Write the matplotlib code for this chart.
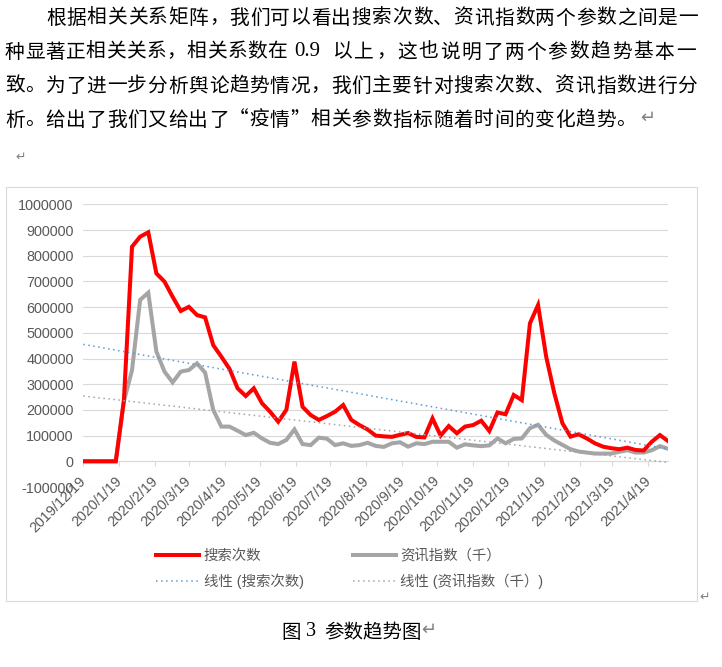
import numpy as np
import pandas as pd
import matplotlib
matplotlib.use('Agg')
import matplotlib.pyplot as plt
import matplotlib.dates as mdates
from matplotlib.patches import Rectangle

# weekly data
dates = pd.date_range('2019-12-19', periods=73, freq='7D')
search = [0, 0, 0, 0, 0, 238000, 835000, 874000, 891000, 731000, 699000, 640000,
          585000, 601000, 569000, 560000, 452000, 407000, 360000, 284000, 254000,
          284000, 226000, 193000, 154000, 200000, 388000, 212000, 180000, 161000,
          176000, 193000, 219000, 161000, 141000, 124000, 100000, 97000, 95000,
          103000, 110000, 95000, 93000, 167000, 100000, 137000, 109000, 135000,
          141000, 158000, 118000, 190000, 183000, 258000, 238000, 537000, 608000,
          407000, 265000, 148000, 96000, 105000, 89000, 70000, 57000, 51000, 47000,
          53000, 44000, 42000, 76000, 102000, 79000]
news = [0, 0, 0, 0, 0, 233000, 355000, 628000, 656000, 427000, 349000, 307000,
        349000, 355000, 381000, 345000, 200000, 135000, 135000, 119000, 102000,
        111000, 89000, 72000, 67000, 83000, 124000, 67000, 63000, 92000, 88000,
        63000, 70000, 60000, 63000, 72000, 60000, 56000, 70000, 74000, 57000,
        70000, 67000, 76000, 76000, 76000, 53000, 66000, 62000, 59000, 62000,
        89000, 70000, 87000, 89000, 129000, 142000, 103000, 81000, 64000, 47000,
        38000, 34000, 30000, 30000, 30000, 37000, 43000, 34000, 34000, 43000,
        59000, 49000]
# excel linear trendlines, value at first and last week
trend_search = [455000, 48000]
trend_news = [254000, -4000]
month_ticks = [pd.Timestamp('2019-12-19') + pd.DateOffset(months=k) for k in range(17)]
yticks = list(range(-100000, 1000001, 100000))

body = [
    "根据相关关系矩阵，我们可以看出搜索次数、资讯指数两个参数之间是一",
    "种显著正相关关系，相关系数在",
    "以上，这也说明了两个参数趋势基本一",
    "致。为了进一步分析舆论趋势情况，我们主要针对搜索次数、资讯指数进行分",
    "析。给出了我们又给出了“疫情”相关参数指标随着时间的变化趋势。",
]

W, H = 722, 667
fig = plt.figure(figsize=(W / 100, H / 100), dpi=100)


def fx(x):
    return x / W


def fy(y):
    return 1 - y / H


cjk = ['Noto Sans CJK SC', 'DejaVu Sans']
sans = ['Liberation Sans', 'Noto Sans CJK SC', 'DejaVu Sans']
grey_txt = '#595959'
fs_body = 14.2


def spread(s, x0, pitch, y):
    # word justifies CJK text by spacing every character evenly
    for i, ch in enumerate(s):
        fig.text(fx(x0 + i * pitch), fy(y), ch, fontsize=fs_body, family=cjk,
                 va='center', ha='left')


# document text above the chart
spread(body[0], 46, 20.38, 18)
spread(body[1], 5, 20.2, 52)
fig.text(fx(307), fy(52), "0.9", fontsize=15, family='Liberation Serif',
         va='center', ha='center')
spread(body[2], 333, 21.45, 52)
spread(body[3], 5, 20.38, 86)
spread(body[4], 5, 20.38, 120)
fig.text(fx(640), fy(118), "↵", fontsize=13, family=cjk, va='center', color='#808080')
fig.text(fx(15), fy(157), "↵", fontsize=9, family=cjk, va='center', color='#808080')

# chart frame
fig.add_artist(Rectangle((fx(6), fy(601)), fx(697) - fx(6), fy(187) - fy(601),
                         transform=fig.transFigure, fill=False,
                         edgecolor='#D9D9D9', lw=0.8))
fig.text(fx(699), fy(597), "↵", fontsize=9, family=cjk, va='center', color='#808080')

ax = fig.add_axes([fx(83.3), fy(487), fx(668) - fx(83.3), fy(204.3) - fy(487)])

l1, = ax.plot(dates, search, color='#FF0000', lw=2.9, solid_joinstyle='miter', zorder=4)
l2, = ax.plot(dates, news, color='#A5A5A5', lw=2.9, solid_joinstyle='miter', zorder=3)
ends = [dates[0], dates[-1]]
l3, = ax.plot(ends, trend_search, color='#5B9BD5', lw=1.1,
              linestyle=(0, (1, 2.3)), zorder=5)
l4, = ax.plot(ends, trend_news, color='#A5A5A5', lw=1.1,
              linestyle=(0, (1, 2.3)), zorder=5)

ax.set_xlim(mdates.date2num(dates[0]), mdates.date2num(dates[-1]))
ax.set_ylim(-100000, 1000000)
ax.set_yticks(yticks)
ax.set_yticklabels([str(v) for v in yticks])
ax.yaxis.grid(True, color='#D9D9D9', lw=0.8)
ax.set_axisbelow(True)
for s in ['top', 'right', 'left']:
    ax.spines[s].set_visible(False)
ax.spines['bottom'].set_position(('data', 0))
ax.spines['bottom'].set_color('#D9D9D9')
ax.spines['bottom'].set_linewidth(0.8)

ax.set_xticks(mdates.date2num(month_ticks))
ax.set_xticklabels([f"{d.year}/{d.month}/{d.day}" for d in month_ticks])
ax.tick_params(axis='y', length=0, pad=7, labelsize=10.4, labelcolor=grey_txt)
ax.tick_params(axis='x', length=3.6, width=0.8, color='#D9D9D9', pad=9,
               labelsize=10.4, labelcolor=grey_txt)
for lab in ax.get_xticklabels() + ax.get_yticklabels():
    lab.set_family(sans)
for lab in ax.get_xticklabels():
    lab.set_rotation(45)
    lab.set_ha('right')
    lab.set_va('center')
    lab.set_rotation_mode('anchor')

leg = ax.legend([l1, l3, l2, l4],
                ['搜索次数', '线性 (搜索次数)', '资讯指数（千）', '线性 (资讯指数（千）)'],
                ncol=2, loc='upper left', bbox_to_anchor=(fx(156), fy(549)),
                bbox_transform=fig.transFigure, frameon=False,
                handlelength=3.0, handletextpad=0.3, columnspacing=3.4,
                borderpad=0, borderaxespad=0, labelspacing=0.75,
                prop={'family': sans, 'size': 10.4})
for t in leg.get_texts():
    t.set_color(grey_txt)

# caption
fig.text(fx(281), fy(632), "图", fontsize=14, family=cjk, va='center')
fig.text(fx(306), fy(632), "3", fontsize=14.5, family='Liberation Serif', va='center')
fig.text(fx(324), fy(632), "参数趋势图", fontsize=14, family=cjk, va='center')
fig.text(fx(421), fy(630), "↵", fontsize=13, family=cjk, va='center', color='#808080')

fig.savefig('out.png', dpi=100)
